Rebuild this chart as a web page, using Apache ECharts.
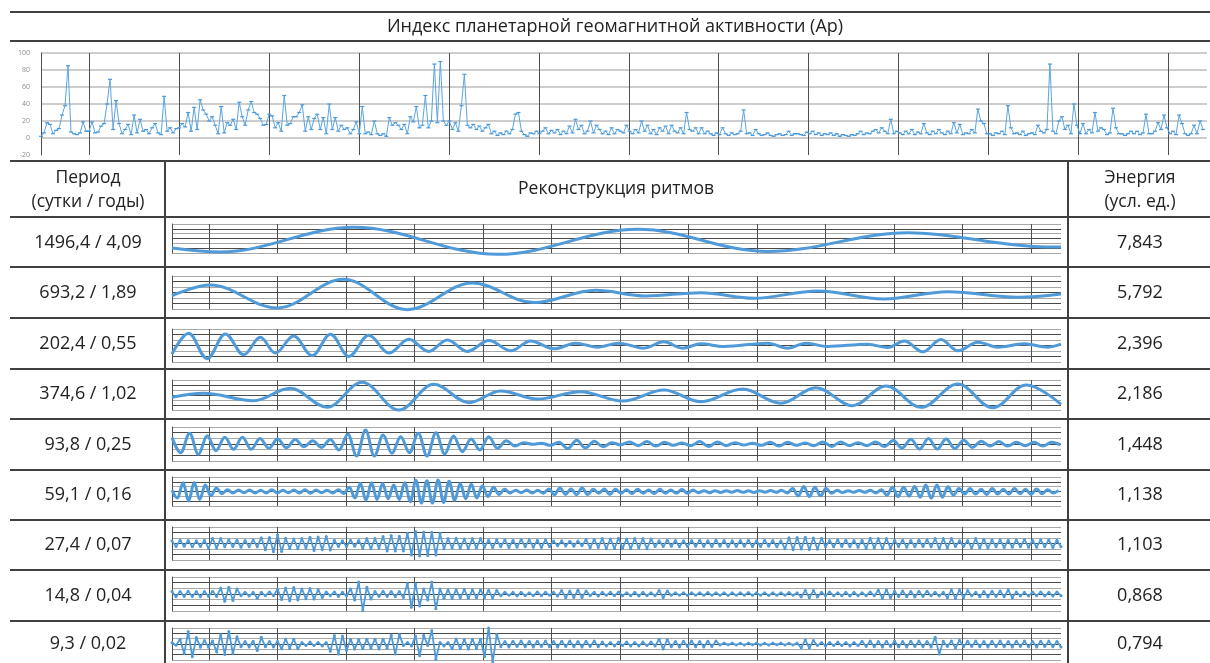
<!DOCTYPE html>
<html>
<head>
<meta charset="utf-8">
<script src="https://cdn.jsdelivr.net/npm/echarts@6/dist/echarts.min.js"></script>
<style>
  html, body { margin: 0; padding: 0; background: #fff; }
  #main { width: 1210px; height: 663px; }
</style>
</head>
<body>
<div id="main"></div>
<script>
// ---- data ----
// Ap index, one value every ~12 days over the whole record
const apValues = [
  2, 6, 18, 16, 5, 9, 11, 27, 38, 85, 7, 5, 4, 6, 19, 8,
  8, 19, 6, 7, 14, 17, 40, 69, 10, 44, 17, 5, 10, 16, 4, 27, 6, 22, 8, 10, 5, 12, 17, 6, 4, 49, 8, 12, 6, 11,
  12, 17, 13, 30, 8, 36, 10, 45, 33, 28, 20, 25, 15, 5, 37, 6, 18, 15, 22, 10, 42, 25, 15, 33, 43, 30, 28, 23, 15, 16,
  28, 26, 12, 18, 8, 50, 15, 17, 25, 25, 30, 39, 8, 25, 10, 23, 28, 10, 24, 5, 40, 10, 24, 8, 15, 10, 12, 5, 10, 19,
  5, 37, 5, 7, 4, 20, 5, 3, 5, 2, 24, 15, 18, 15, 10, 16, 5, 25, 19, 37, 12, 15, 50, 12, 20, 87, 18, 90, 20, 15,
  20, 10, 18, 8, 38, 75, 15, 12, 16, 10, 14, 8, 12, 16, 5, 8, 3, 6, 4, 8, 5, 10, 28, 30, 8, 4, 2, 6, 5, 8,
  5, 8, 12, 5, 9, 6, 10, 4, 8, 5, 14, 6, 22, 10, 15, 5, 8, 20, 6, 15, 10, 5, 8, 4, 12, 5, 10, 8, 6, 15,
  8, 5, 10, 6, 20, 8, 15, 5, 10, 4, 12, 8, 14, 5, 15, 8, 6, 12, 5, 30, 10, 8, 12, 5, 12, 5, 8, 5, 3, 6,
  4, 12, 5, 3, 6, 4, 5, 8, 33, 5, 6, 3, 10, 5, 3, 4, 6, 3, 2, 4, 5, 3, 4, 8, 3, 5, 5, 4, 3, 7,
  5, 8, 4, 6, 3, 5, 4, 6, 3, 5, 2, 4, 3, 2, 4, 3, 5, 8, 4, 6, 5, 8, 10, 6, 12, 8, 5, 22, 5, 8,
  6, 4, 8, 5, 10, 4, 7, 5, 17, 6, 4, 8, 5, 10, 6, 4, 8, 5, 18, 6, 16, 4, 6, 5, 10, 6, 34, 20, 17, 5,
  5, 3, 6, 5, 8, 4, 38, 12, 5, 6, 4, 8, 3, 5, 6, 4, 15, 8, 6, 10, 87, 8, 5, 20, 25, 10, 15, 5, 40, 15,
  5, 17, 5, 10, 6, 30, 8, 12, 10, 4, 6, 35, 12, 5, 5, 3, 5, 8, 5, 8, 4, 6, 28, 5, 5, 8, 18, 10, 27, 12,
  5, 8, 4, 27, 17, 5, 3, 5, 15, 5, 20, 10
];
const apSpanDays = 4724;
const apTicks = [-20, 0, 20, 40, 60, 80, 100];

const totalDays = 4740;
const yearDays = [198, 563, 929, 1294, 1659, 2024, 2390, 2755, 3120, 3485, 3851, 4216, 4581];

const periodLabels = ['1496,4 / 4,09', '693,2 / 1,89', '202,4 / 0,55', '374,6 / 1,02', '93,8 / 0,25',
  '59,1 / 0,16', '27,4 / 0,07', '14,8 / 0,04', '9,3 / 0,02'];
const energyLabels = ['7,843', '5,792', '2,396', '2,186', '1,448', '1,138', '1,103', '0,868', '0,794'];

// reconstructed rhythms: extrema (day from start, relative amplitude)
const row1Days = [0, 258, 968, 1736, 2483, 3177, 3924, 4661, 4740];
const row1Vals = [-0.65, -0.93, 0.77, -1.09, 0.63, -0.90, 0.40, -0.58, -0.58];

const row2Days = [0, 204, 560, 914, 1254, 1601, 1928, 2259, 2526, 2820, 3102, 3444, 3796, 4138, 4511, 4740];
const row2Vals = [-0.19, 0.45, -0.94, 0.80, -1.04, 0.58, -0.61, 0.13, -0.21, -0.01, -0.35, 0.09, -0.39, 0.05, -0.29, -0.09];

const row3Days = [0, 89, 187, 284, 382, 471, 551, 649, 747, 845, 943, 1049, 1156, 1263, 1369, 1468, 1574, 1690,
  1806, 1912, 2037, 2152, 2268, 2382, 2515, 2622, 2722, 2820, 2942, 3176, 3282, 3380, 3496, 3709, 3816, 3905,
  4003, 4100, 4190, 4296, 4403, 4543, 4670, 4740];
const row3Vals = [-0.52, 0.74, -0.80, 0.70, -0.56, 0.50, -0.46, 0.58, -0.62, 0.68, -0.66, 0.62, -0.46, 0.38,
  -0.36, 0.34, -0.36, 0.30, -0.32, 0.28, -0.20, 0.14, -0.10, 0.14, -0.16, 0.22, -0.16, 0.10, -0.06, 0.14,
  -0.16, 0.14, -0.06, 0.08, -0.12, 0.28, -0.38, 0.36, -0.32, 0.20, -0.10, 0.10, -0.10, 0.08];

const row4Days = [0, 169, 435, 631, 827, 1014, 1209, 1396, 1583, 1752, 1948, 2179, 2403, 2624, 2820, 3042,
  3246, 3433, 3629, 3807, 3994, 4190, 4376, 4554, 4740];
const row4Vals = [-0.15, 0.11, -0.38, 0.45, -0.82, 0.85, -1.0, 0.71, -0.51, 0.27, -0.27, 0.22, -0.40, 0.33,
  -0.45, 0.40, -0.55, 0.49, -0.71, 0.60, -0.82, 0.73, -0.85, 0.67, -0.62];

// rows 5-6: successive extrema, half a period apart
const row5Half = 46.9;
const row5Vals = [0.39, -0.51, 0.63, -0.61, 0.49, -0.39, 0.39, -0.31, 0.39, -0.31, 0.33, -0.25, 0.29, -0.22,
  0.27, -0.16, 0.19, -0.20, 0.27, -0.35, 0.57, -0.71, 0.82, -0.71, 0.53, -0.55, 0.43, -0.51, 0.63, -0.71,
  0.66, -0.59, 0.47, -0.45, 0.29, -0.35, 0.43, -0.25, 0.19, -0.12, 0.08, -0.02, 0.05, -0.08,
  0.10, -0.27, 0.22, -0.23, 0.16, -0.16, 0.08, -0.05,
  0.12, -0.10, 0.14, -0.12, 0.10, -0.08, 0.06, -0.10, 0.14, -0.15, 0.12, -0.10, 0.08, -0.06, 0.05, -0.08,
  0.10, -0.12, 0.10, -0.08, 0.06, -0.10, 0.12, -0.14, 0.12, -0.10, 0.08, -0.10, 0.12, -0.15,
  0.20, -0.24, 0.28, -0.30, 0.32, -0.30, 0.30, -0.26, 0.22, -0.20, 0.16,
  -0.12, 0.14, -0.12, 0.10, -0.10, 0.10, -0.12, 0.10, -0.05];

const row6Half = 29.55;
const row6Vals = [0.1, -0.45, 0.6, -0.65, 0.62, -0.55, 0.45,
  -0.3, 0.25, -0.15, 0.12,
  -0.1, 0.1, -0.08, 0.1, -0.1, 0.08, -0.1, 0.12, -0.1, 0.08, -0.08, 0.1, -0.1, 0.12, -0.12, 0.1, -0.08, 0.08, -0.1, 0.12, -0.14,
  0.3, -0.45, 0.55, -0.6, 0.6, -0.55, 0.55, -0.5, 0.45, -0.55, 0.6,
  -0.7, 0.78, -0.8, 0.75, -0.8, 0.8, -0.75, 0.7,
  -0.6, 0.55, -0.5, 0.5, -0.45, 0.4, -0.35, 0.3, -0.2, 0.15,
  -0.1, 0.08, -0.08, 0.1, -0.1, 0.08, -0.12,
  0.18, -0.22, 0.25, -0.2, 0.18, -0.22, 0.24, -0.2, 0.15, -0.12, 0.18, -0.2, 0.15, -0.12,
  0.12, -0.14, 0.15, -0.12, 0.1, -0.14, 0.15, -0.12, 0.1, -0.12, 0.14, -0.12, 0.1, -0.08, 0.06, -0.08,
  0.06, -0.07, 0.06, -0.05, 0.07, -0.06, 0.05, -0.07, 0.06, -0.05, 0.07, -0.06, 0.08, -0.1,
  0.2, -0.3, 0.35, -0.35, 0.3, -0.3, 0.2,
  -0.12, 0.08, -0.07, 0.06, -0.06, 0.07, -0.06, 0.08, -0.1, 0.12,
  -0.25, 0.3, -0.35, 0.3, -0.32, 0.35, -0.4, 0.45, -0.47, 0.45, -0.4, 0.32, -0.25, 0.2,
  -0.18, 0.2, -0.18, 0.16, -0.2, 0.2, -0.18, 0.15, -0.18, 0.2, -0.16, 0.15, -0.2, 0.18, -0.15, 0.12, -0.1, 0.08];

// rows 7-9: short rhythms, sampled extrema (~22 days apart)
const row7Vals = [0.15, -0.18, 0.2, -0.16, 0.18, -0.2, 0.16, -0.18, 0.2,
  -0.3, 0.32, -0.28, 0.3,
  -0.2, 0.22, -0.18, 0.2, -0.22, 0.18, -0.2, 0.22, -0.2,
  0.35, -0.38, 0.36, -0.5, 0.52, -0.48,
  0.32, -0.3, 0.28, -0.32, 0.3, -0.28,
  0.38, -0.42, 0.4, -0.38, 0.42, -0.4,
  0.2, -0.18, 0.16, -0.18, 0.2, -0.16, 0.18,
  -0.28, 0.3, -0.32, 0.3, -0.28,
  0.42, -0.45, 0.48, -0.45, 0.44, -0.46,
  0.62, -0.7, 0.72, -0.75, 0.7, -0.72, 0.68, -0.7, 0.6,
  -0.32, 0.3, -0.28, 0.32, -0.3, 0.28, -0.32, 0.3, -0.28, 0.3,
  -0.22, 0.2, -0.24, 0.22, -0.2, 0.22, -0.24, 0.2, -0.22, 0.24, -0.2, 0.22, -0.22, 0.2, -0.24, 0.22, -0.2,
  0.15, -0.14, 0.16, -0.15, 0.14, -0.16, 0.15, -0.14,
  0.24, -0.26, 0.25, -0.24,
  0.3, -0.32, 0.28, -0.3, 0.32, -0.3, 0.28, -0.32, 0.3, -0.28, 0.3, -0.32, 0.28,
  -0.18, 0.16, -0.18, 0.2, -0.16, 0.18, -0.2, 0.16, -0.18, 0.18, -0.16, 0.2, -0.18, 0.16, -0.18, 0.2,
  -0.16, 0.18, -0.2, 0.16, -0.18, 0.18, -0.16, 0.2, -0.18, 0.16, -0.18, 0.2, -0.16, 0.18, -0.2, 0.16,
  -0.32, 0.35, -0.38, 0.36, -0.34, 0.38, -0.36, 0.34, -0.35, 0.32,
  -0.2, 0.18, -0.2, 0.22, -0.18, 0.2, -0.2, 0.18, -0.22, 0.2,
  -0.3, 0.32, -0.28, 0.3, -0.32, 0.3, -0.28,
  0.2, -0.18, 0.2, -0.22, 0.18, -0.2, 0.2, -0.18, 0.22, -0.2,
  0.3, -0.32, 0.3, -0.28, 0.3,
  -0.18, 0.16, -0.18, 0.18,
  -0.28, 0.3, -0.28, 0.26, -0.28,
  0.22, -0.2, 0.22, -0.24, 0.2, -0.22, 0.22, -0.2, 0.24, -0.22, 0.2, -0.22, 0.22, -0.2, 0.22, -0.24, 0.2, -0.2];

const row8Vals = [0.14, -0.16, 0.15, -0.14, 0.16, -0.15, 0.14, -0.16, 0.15, -0.14, 0.16, -0.15,
  0.35, -0.42, 0.4, -0.38, 0.3,
  -0.1, 0.1, -0.12, 0.1, -0.25, 0.1, -0.1, 0.12, -0.1,
  0.28, -0.32, 0.35, -0.4, 0.38, -0.35, 0.3, -0.28, 0.32, -0.3, 0.25, -0.2,
  0.12, -0.1, 0.12, -0.14, 0.1, -0.12,
  0.3, -0.35, 0.7, -0.97, 0.4, -0.3,
  0.15, -0.14, 0.16, -0.15, 0.14, -0.16, 0.15, -0.2,
  0.62, -0.78, 0.6, -0.7,
  0.3, -0.35, 0.7, -0.87, 0.3,
  -0.25, 0.24, -0.26, 0.25, -0.24, 0.26, -0.25, 0.24,
  -0.22, 0.24, -0.2, 0.22, -0.24, 0.2,
  -0.1, 0.1, -0.08, 0.1, -0.12, 0.1, -0.1, 0.08, -0.1, 0.12, -0.1, 0.1, -0.08, 0.1, -0.12,
  0.2, -0.22, 0.18, -0.2, 0.22, -0.2, 0.18,
  -0.1, 0.1, -0.12, 0.1, -0.08, 0.1, -0.1, 0.12, -0.1, 0.08, -0.1, 0.1, -0.12, 0.1, -0.1, 0.08, -0.1,
  0.2, -0.22, 0.18,
  -0.08, 0.08, -0.07, 0.08, -0.09, 0.07, -0.08, 0.08, -0.07, 0.09, -0.08, 0.07, -0.08, 0.08, -0.09, 0.07,
  -0.08, 0.08, -0.07, 0.09, -0.08, 0.07, -0.08, 0.08, -0.09, 0.07, -0.08, 0.08, -0.07, 0.09, -0.08, 0.07,
  -0.18, 0.2, -0.22, 0.2, -0.18,
  0.1, -0.1, 0.12, -0.1, 0.08, -0.1, 0.1, -0.12, 0.1, -0.1, 0.08, -0.1, 0.12, -0.1,
  0.22, -0.26, 0.24, -0.22,
  0.16, -0.15, 0.17, -0.16, 0.15, -0.17, 0.16, -0.15, 0.16,
  -0.1, 0.1, -0.12, 0.1,
  -0.22, 0.24, -0.26, 0.24, -0.22, 0.2,
  -0.1, 0.1,
  -0.16, 0.15, -0.17, 0.16, -0.15, 0.17, -0.16,
  0.24, -0.22, 0.12, -0.12, 0.1, -0.12, 0.12, -0.1, 0.12, -0.12, 0.1, -0.12, 0.12, -0.1];

const row9Vals = [0.08, -0.08,
  0.3, -0.6, 0.78, -0.8, 0.4,
  -0.2, 0.22, -0.2, 0.18,
  -0.5, 0.6, -0.65, 0.78, -0.6, 0.45,
  -0.17, 0.16, -0.18, 0.17,
  -0.4, 0.42,
  -0.17, 0.16, -0.18, 0.17,
  -0.3, 0.32, -0.28, 0.3, -0.3,
  0.1, -0.1, 0.12, -0.1, 0.1, -0.12, 0.1,
  -0.45, 0.53, -0.63, 0.5, -0.4,
  0.3, -0.32, 0.28, -0.3, 0.3,
  -0.28, 0.3, -0.32, 0.3, -0.28,
  0.55, -0.62, 0.6,
  -0.1, 0.1, -0.12,
  0.5, -0.74, 0.55,
  -0.1, 0.85, -0.95,
  0.1, -0.12, 0.1,
  -0.3, 0.32, -0.3, 0.28, -0.32, 0.3, -0.28, 0.3,
  -0.8, 1.0, -1.15, 0.6,
  -0.17, 0.16, -0.18, 0.17, -0.16, 0.18, -0.17, 0.16, -0.18, 0.17, -0.16, 0.18, -0.17, 0.16, -0.18, 0.17,
  -0.16, 0.18, -0.17, 0.16, -0.18, 0.17, -0.16, 0.18, -0.17,
  0.12, -0.12, 0.1, -0.12, 0.12, -0.1, 0.12, -0.12, 0.1, -0.12, 0.12, -0.1, 0.12, -0.12,
  0.3, -0.32, 0.28,
  -0.17, 0.16, -0.18, 0.17, -0.16, 0.18, -0.17, 0.16, -0.18, 0.17, -0.16, 0.18,
  -0.06, 0.06, -0.05, 0.06, -0.06, 0.05, -0.06, 0.06, -0.05, 0.06, -0.06, 0.05, -0.06, 0.06, -0.05, 0.06,
  -0.06, 0.05, -0.06, 0.06,
  -0.24, 0.26, -0.25, 0.22,
  -0.1, 0.1, -0.12, 0.1, -0.1, 0.12, -0.1, 0.1, -0.12, 0.1, -0.1,
  0.17, -0.16, 0.18, -0.17, 0.16, -0.18, 0.17, -0.16, 0.18, -0.17, 0.16, -0.18, 0.17, -0.16, 0.18, -0.17, 0.16, -0.18,
  0.42, -0.63,
  0.17, -0.16, 0.18, -0.25, 0.24, -0.17,
  0.17, -0.16, 0.18, -0.17, 0.16, -0.18, 0.17, -0.16, 0.18, -0.17, 0.16, -0.18, 0.17, -0.16, 0.18, -0.17,
  0.16, -0.18, 0.17, -0.16, 0.18, -0.17, 0.16, -0.18];

// ---- layout ----
const lineCol = '#404040';
const waveCol = '#4f9ad8';
const font = '"Open Sans", "Noto Sans", sans-serif';
const rowBorders = [161, 217, 267, 318, 369, 419, 470, 520, 570, 621];
const rowPlotTop = [224, 276, 329, 380, 427, 477, 527, 577, 628];
const rowPlotH = [29, 33, 33, 30, 34, 29, 33, 34, 32];
const rowTickLen = [5, 1, 1, 2, 2, 5, 2, 2, 2];

function paired(days, vals) { return days.map((d, i) => [d, vals[i] * 3]); }
function stepped(vals, step) { return vals.map((v, i) => [i * step, v * 3]); }

const shortStep = totalDays / 219;
const rowData = [
  paired(row1Days, row1Vals),
  paired(row2Days, row2Vals),
  paired(row3Days, row3Vals),
  paired(row4Days, row4Vals),
  stepped(row5Vals, row5Half),
  stepped(row6Vals, row6Half),
  stepped(row7Vals, shortStep),
  stepped(row8Vals, shortStep),
  stepped(row9Vals, shortStep)
];

const apStep = apSpanDays / (apValues.length - 1);
const apData = apValues.map((v, i) => [i * apStep, v]);

const grids = [{ left: 41, top: 53, width: 1166, height: 102 }];
const xAxes = [{
  type: 'value', gridIndex: 0, min: 0, max: totalDays,
  axisLine: { show: false },
  axisTick: { show: true, customValues: yearDays, length: 1, lineStyle: { color: '#505050', width: 1 } },
  axisLabel: { show: false },
  splitLine: { show: true, lineStyle: { color: '#505050', width: 1 } }
}];
const yAxes = [{
  type: 'value', gridIndex: 0, min: apTicks[0], max: apTicks[apTicks.length - 1], interval: 20,
  axisLine: { show: true, lineStyle: { color: '#505050', width: 1 } },
  axisTick: { show: false },
  axisLabel: { fontSize: 7, color: '#8c8c8c', margin: 11, fontFamily: font },
  splitLine: { show: true, showMinLine: false, lineStyle: { color: '#bdbdbd', width: 1.5 } }
}];
const series = [{
  type: 'line', xAxisIndex: 0, yAxisIndex: 0, data: apData,
  lineStyle: { color: '#5aa5e2', width: 1 },
  itemStyle: { color: '#4a98da' },
  symbol: 'rect', symbolSize: [4, 1.2], showSymbol: true,
  animation: false, silent: true
}];

rowData.forEach((data, r) => {
  const g = r + 1;
  grids.push({ left: 172, width: 889, top: rowPlotTop[r], height: rowPlotH[r] });
  xAxes.push({
    type: 'value', gridIndex: g, min: 0, max: totalDays,
    axisLine: { show: false },
    axisTick: { show: true, customValues: yearDays, length: rowTickLen[r], lineStyle: { color: '#505050', width: 1 } },
    axisLabel: { show: false },
    splitLine: { show: true, lineStyle: { color: '#505050', width: 1 } }
  });
  yAxes.push({
    type: 'value', gridIndex: g, min: -3, max: 3, interval: 1,
    axisLine: { show: true, lineStyle: { color: '#505050', width: 1 } },
    axisTick: { show: false }, axisLabel: { show: false },
    splitLine: { show: true, lineStyle: { color: ['#a8a8a8', '#4a4a4a'], width: 1.2 } }
  });
  const dense = r >= 6;
  series.push({
    type: 'line', xAxisIndex: g, yAxisIndex: g, data: data,
    smooth: dense ? false : 0.36, smoothMonotone: 'x',
    lineStyle: { color: waveCol, width: dense ? 1.8 : 3 },
    itemStyle: { color: waveCol },
    symbol: 'circle', symbolSize: 3, showSymbol: dense,
    clip: false, animation: false, silent: true
  });
});

// ---- table frame and text ----
const graphics = [];
function hline(y) {
  graphics.push({ type: 'line', silent: true, shape: { x1: 10, y1: y, x2: 1210, y2: y },
    style: { stroke: lineCol, lineWidth: 2 } });
}
function vline(x) {
  graphics.push({ type: 'line', silent: true, shape: { x1: x, y1: 161, x2: x, y2: 663 },
    style: { stroke: lineCol, lineWidth: 2 } });
}
function label(text, x, y, size) {
  graphics.push({ type: 'text', silent: true, x: x, y: y,
    style: { text: text, fill: '#222', font: size + 'px ' + font, align: 'center', verticalAlign: 'middle',
      textAlign: 'center', textVerticalAlign: 'middle' } });
}
hline(12); hline(41);
rowBorders.forEach(hline);
vline(165); vline(1068);
label('Индекс планетарной геомагнитной активности (Ap)', 615, 27, 18);
label('Период', 88, 178, 17.5);
label('(сутки / годы)', 88, 202, 17.5);
label('Реконструкция ритмов', 616, 189, 17.5);
label('Энергия', 1140, 178, 17.5);
label('(усл. ед.)', 1140, 202, 17.5);
const rowCenters = [243, 293, 344, 394, 445, 495, 545, 596, 644];
periodLabels.forEach((t, i) => label(t, 88, rowCenters[i], 18));
energyLabels.forEach((t, i) => label(t, 1140, rowCenters[i], 18));

const chart = echarts.init(document.getElementById('main'));
chart.setOption({
  animation: false,
  backgroundColor: '#fff',
  grid: grids,
  xAxis: xAxes,
  yAxis: yAxes,
  series: series,
  graphic: graphics
});
</script>
</body>
</html>
